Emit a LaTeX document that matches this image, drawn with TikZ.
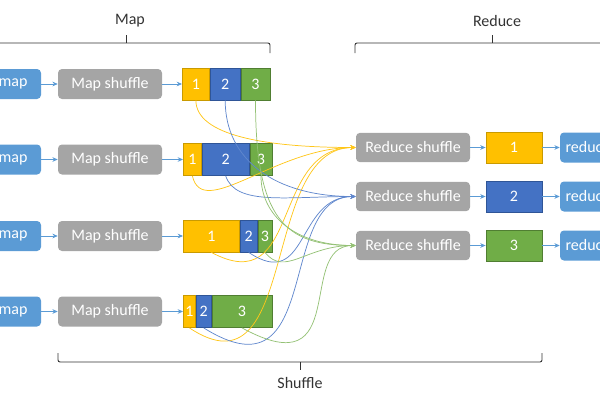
\documentclass[tikz,border=0pt]{standalone}
\usepackage{fontspec}
\setmainfont{Carlito}
\usetikzlibrary{arrows.meta}

\definecolor{cmap}{HTML}{5B9BD5}
\definecolor{cgray}{HTML}{A5A5A5}
\definecolor{cyel}{HTML}{FFC000}
\definecolor{cblu}{HTML}{4472C4}
\definecolor{cgrn}{HTML}{70AD47}
\definecolor{cyeld}{HTML}{C99A00}
\definecolor{cblud}{HTML}{2F5597}
\definecolor{cgrnd}{HTML}{507E32}
\definecolor{ctext}{HTML}{333333}

\tikzset{
  box/.style={rounded corners=3pt, text=white, minimum height=22.5pt, inner sep=0pt, font=\fontsize{12}{14}\selectfont},
  mapbox/.style={box, fill=cmap, minimum width=42pt},
  shufbox/.style={box, fill=cgray, minimum width=78pt},
  rshufbox/.style={box, fill=cgray, minimum width=85.5pt, minimum height=22pt},
  seg/.style={draw, line width=0.6pt, text=white, minimum height=24pt, inner sep=0pt, anchor=west, font=\fontsize{12}{14}\selectfont},
  link/.style={draw=cmap, line width=0.6pt, -{Stealth[length=4pt,width=3.5pt]}},
  brace/.style={draw=ctext, line width=0.7pt, rounded corners=1.5pt},
  label/.style={text=ctext, font=\fontsize{12}{14}\selectfont},
  flow/.style={line width=0.55pt, -{Stealth[length=4pt,width=3.5pt]}},
  flowY/.style={flow, draw=cyel!90!white},
  flowB/.style={flow, draw=cblu!85!white},
  flowG/.style={flow, draw=cgrn!75!white}
}

\begin{document}
\begin{tikzpicture}[x=0.75pt,y=-0.75pt]
\useasboundingbox (0,0) rectangle (600,400);
\clip (0,0) rectangle (600,400);

% Map row 1
\node[mapbox] (m1) at (13,84) {map};
\node[shufbox] (ms1) at (110,84) {Map shuffle};
\node[seg, fill=cyel, draw=cyeld, minimum width=20.25pt] (p11) at (182,84) {1};
\node[seg, fill=cblu, draw=cblud, minimum width=22.5pt] (p12) at (p11.east) {2};
\node[seg, fill=cgrn, draw=cgrnd, minimum width=21.75pt] (p13) at (p12.east) {3};
% Map row 2
\node[mapbox] (m2) at (13,159.5) {map};
\node[shufbox] (ms2) at (110,159.5) {Map shuffle};
\node[seg, fill=cyel, draw=cyeld, minimum width=13.5pt] (p21) at (183,159.5) {1};
\node[seg, fill=cblu, draw=cblud, minimum width=35.25pt] (p22) at (p21.east) {2};
\node[seg, fill=cgrn, draw=cgrnd, minimum width=16.5pt] (p23) at (p22.east) {3};
% Map row 3
\node[mapbox] (m3) at (13,236) {map};
\node[shufbox] (ms3) at (110,236) {Map shuffle};
\node[seg, fill=cyel, draw=cyeld, minimum width=42pt] (p31) at (183,236) {1};
\node[seg, fill=cblu, draw=cblud, minimum width=12.75pt] (p32) at (p31.east) {2};
\node[seg, fill=cgrn, draw=cgrnd, minimum width=10.5pt] (p33) at (p32.east) {3};
% Map row 4
\node[mapbox] (m4) at (13,311.5) {map};
\node[shufbox] (ms4) at (110,311.5) {Map shuffle};
\node[seg, fill=cyel, draw=cyeld, minimum width=9pt] (p41) at (183,311.5) {1};
\node[seg, fill=cblu, draw=cblud, minimum width=11.25pt] (p42) at (p41.east) {2};
\node[seg, fill=cgrn, draw=cgrnd, minimum width=45pt] (p43) at (p42.east) {3};

% Reduce rows
\node[rshufbox] (rs1) at (413,147.5) {Reduce shuffle};
\node[rshufbox] (rs2) at (413,196.5) {Reduce shuffle};
\node[rshufbox] (rs3) at (413,245.5) {Reduce shuffle};
\node[seg, anchor=center, fill=cyel, draw=cyeld, minimum width=42pt, minimum height=23.25pt] (r1) at (514,147.5) {1};
\node[seg, anchor=center, fill=cblu, draw=cblud, minimum width=42pt, minimum height=23.25pt] (r2) at (514,196.5) {2};
\node[seg, anchor=center, fill=cgrn, draw=cgrnd, minimum width=42pt, minimum height=23.25pt] (r3) at (514,245.5) {3};
\node[mapbox] (rd1) at (588,147.5) {reduce};
\node[mapbox] (rd2) at (588,196.5) {reduce};
\node[mapbox] (rd3) at (588,245.5) {reduce};

% small arrows
\draw[link] (m1) -- (ms1);
\draw[link] (ms1) -- (p11);
\draw[link] (m2) -- (ms2);
\draw[link] (ms2) -- (p21);
\draw[link] (m3) -- (ms3);
\draw[link] (ms3) -- (p31);
\draw[link] (m4) -- (ms4);
\draw[link] (ms4) -- (p41);
\draw[link] (rs1) -- (r1);
\draw[link] (r1) -- (rd1);
\draw[link] (rs2) -- (r2);
\draw[link] (r2) -- (rd2);
\draw[link] (rs3) -- (r3);
\draw[link] (r3) -- (rd3);

% shuffle curves: partition 1
\draw[flowY] (p11.south) .. controls +(0,35) and +(-90,0) .. (rs1.west);
\draw[flowY] (p21.south) .. controls +(10,45) and +(-80,0) .. (rs1.west);
\draw[flowY] (p31.south) .. controls +(90,48) and +(-86,0) .. (rs1.west);
\draw[flowY] (p41.south) .. controls +(110,73) and +(-96,0) .. (rs1.west);
% partition 2
\draw[flowB] (p12.south) .. controls +(0,60) and +(-80,0) .. (rs2.west);
\draw[flowB] (p22.south) .. controls +(10,30) and +(-70,0) .. (rs2.west);
\draw[flowB] (p32.south) .. controls +(60,40) and +(-60,0) .. (rs2.west);
\draw[flowB] (p42.south) .. controls +(120,75) and +(-80,0) .. (rs2.west);
% partition 3
\draw[flowG] (p13.south) .. controls +(0,120) and +(-70,0) .. (rs3.west);
\draw[flowG] (p23.south) .. controls +(0,40) and +(-60,0) .. (rs3.west);
\draw[flowG] (p33.south) .. controls +(20,25) and +(-50,0) .. (rs3.west);
\draw[flowG] (p43.south) .. controls +(110,60) and +(-60,0) .. (rs3.west);

% braces
\draw[brace] (-10,43) -- (270,43) -- (270,53);
\draw[brace] (126,43) -- (126,35);
\draw[brace] (355,53) -- (355,43) -- (610,43);
\draw[brace] (492,43) -- (492,35);
\draw[brace] (58,353) -- (58,362) -- (542,362) -- (542,353);
\draw[brace] (300,362) -- (300,370);

% Text Node
\node[label] (tmap) at (130,21) {Map};
% Text Node
\node[label] (tred) at (497,21) {Reduce};
% Text Node
\node[label] (tshuf) at (300,383) {Shuffle};

\end{tikzpicture}
\end{document}
